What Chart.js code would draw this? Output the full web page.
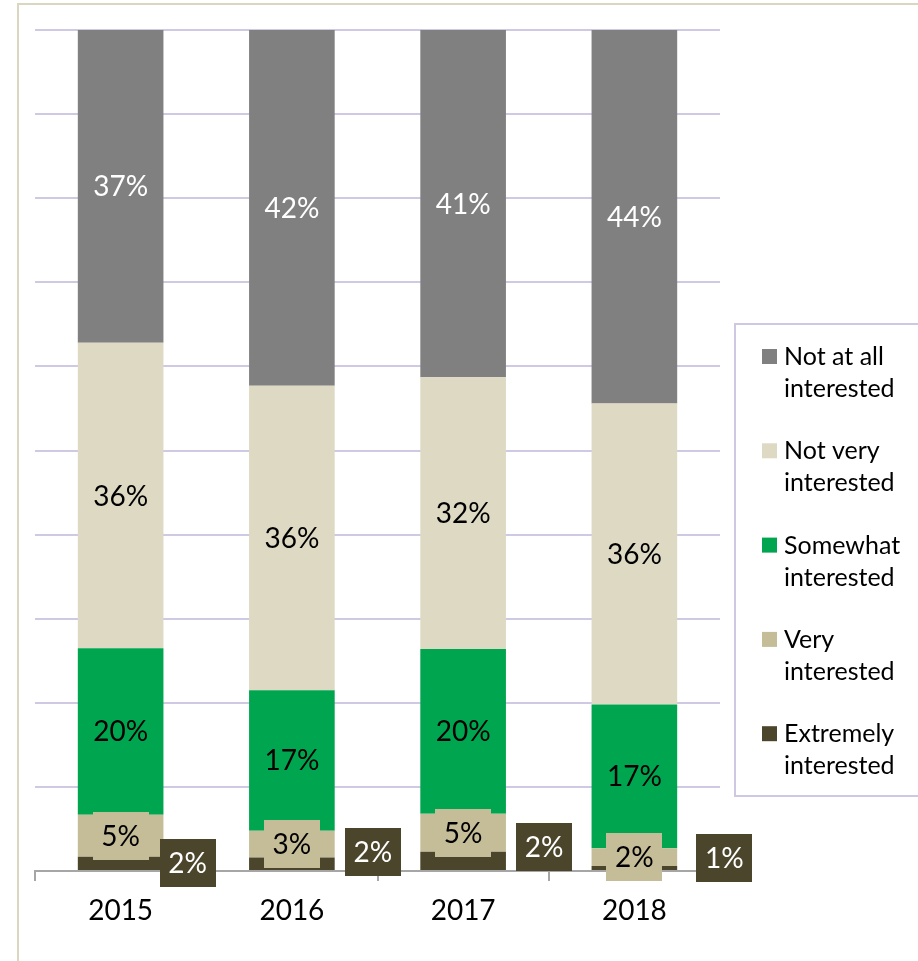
<!DOCTYPE html>
<html>
<head>
<meta charset="utf-8">
<script src="https://cdn.jsdelivr.net/npm/chart.js@4/dist/chart.umd.min.js"></script>
<style>
  html, body { margin: 0; padding: 0; background: #ffffff; }
  #wrap { position: relative; width: 918px; height: 961px; }
</style>
</head>
<body>
<div id="wrap"><canvas id="c" width="918" height="961"></canvas></div>
<script>
// ---- data ----
const years = ['2015', '2016', '2017', '2018'];
const extremelyInterested = [1.7, 1.6, 2.3, 0.6];
const veryInterested      = [5.0, 3.2, 4.5, 2.1];
const somewhatInterested  = [19.8, 16.7, 19.6, 17.1];
const notVeryInterested   = [36.3, 36.2, 32.3, 35.8];
const notAtAllInterested  = [37.2, 42.3, 41.3, 44.4];
const yTicks = [0, 10, 20, 30, 40, 50, 60, 70, 80, 90, 100];

const FONT = 'Lato, "Open Sans", "DejaVu Sans", sans-serif';

const datasets = [
  { label: ['Extremely', 'interested'], data: extremelyInterested, backgroundColor: '#4b452b', labelColor: '#ffffff', boxed: true,
    offsets: [[67, 0], [81, -12], [81, -14], [90, -10]] },
  { label: ['Very', 'interested'], data: veryInterested, backgroundColor: '#c4bd97', labelColor: '#000000', boxed: true },
  { label: ['Somewhat', 'interested'], data: somewhatInterested, backgroundColor: '#00a54f', labelColor: '#000000' },
  { label: ['Not very', 'interested'], data: notVeryInterested, backgroundColor: '#ddd9c3', labelColor: '#000000' },
  { label: ['Not at all', 'interested'], data: notAtAllInterested, backgroundColor: '#808080', labelColor: '#ffffff' }
];

const framePlugin = {
  id: 'frame',
  beforeDraw(chart) {
    const ctx = chart.ctx;
    ctx.save();
    ctx.fillStyle = '#ffffff';
    ctx.fillRect(0, 0, chart.width, chart.height);
    ctx.strokeStyle = '#dad6c0';
    ctx.lineWidth = 2;
    ctx.strokeRect(18, 4, 1000, 1000);
    ctx.restore();
  }
};

const labelPlugin = {
  id: 'segLabels',
  afterDatasetsDraw(chart) {
    const ctx = chart.ctx;
    ctx.save();
    ctx.font = '28px ' + FONT;
    ctx.textAlign = 'center';
    ctx.textBaseline = 'middle';
    chart.data.datasets.forEach((ds, di) => {
      const meta = chart.getDatasetMeta(di);
      meta.data.forEach((el, i) => {
        const txt = Math.round(ds.data[i]) + '%';
        let x = el.x;
        let y = (el.y + el.base) / 2;
        if (ds.offsets) { x += ds.offsets[i][0]; y += ds.offsets[i][1]; }
        if (ds.boxed) {
          const w = 56, h = 48;
          ctx.fillStyle = ds.backgroundColor;
          ctx.fillRect(Math.round(x - w / 2), Math.round(y - h / 2), w, h);
        }
        ctx.fillStyle = ds.labelColor;
        ctx.fillText(txt, x, y + 1);
      });
    });
    ctx.restore();
  }
};

const legendPlugin = {
  id: 'sideLegend',
  afterDraw(chart) {
    const ctx = chart.ctx;
    ctx.save();
    ctx.strokeStyle = '#cfc8e2';
    ctx.lineWidth = 2;
    ctx.strokeRect(735, 324, 300, 472);
    const items = chart.data.datasets.slice().reverse();
    ctx.font = '25px ' + FONT;
    ctx.textAlign = 'left';
    ctx.textBaseline = 'middle';
    items.forEach((ds, i) => {
      const top = 349 + i * 94.3;
      ctx.fillStyle = ds.backgroundColor;
      ctx.fillRect(762, top, 15, 15);
      ctx.fillStyle = '#000000';
      ds.label.forEach((line, k) => {
        ctx.fillText(line, 784, top + 8 + k * 32);
      });
    });
    ctx.restore();
  }
};

new Chart(document.getElementById('c'), {
  type: 'bar',
  data: { labels: years, datasets: datasets.map(d => Object.assign({ borderWidth: 0 }, d)) },
  plugins: [framePlugin, labelPlugin, legendPlugin],
  options: {
    responsive: false,
    animation: false,
    layout: { padding: { left: 35, right: 198, top: 30, bottom: 0 } },
    datasets: { bar: { categoryPercentage: 1.0, barPercentage: 0.5 } },
    plugins: { legend: { display: false }, tooltip: { enabled: false } },
    scales: {
      x: {
        stacked: true,
        afterFit(s) { s.height = 90; },
        grid: { offset: true, drawOnChartArea: false, drawTicks: true, tickLength: 10, color: '#a6a6a6', lineWidth: 2 },
        border: { display: true, color: '#a6a6a6', width: 2 },
        ticks: { color: '#000000', font: { family: FONT, size: 28 }, padding: 13, maxRotation: 0 }
      },
      y: {
        stacked: true,
        min: 0,
        max: 100,
        afterFit(s) { s.width = 0; },
        afterBuildTicks(s) { s.ticks = yTicks.map(v => ({ value: v })); },
        ticks: { display: false },
        border: { display: false },
        grid: { color: '#d0c9e3', lineWidth: 2, drawTicks: false }
      }
    }
  }
});
</script>
</body>
</html>
